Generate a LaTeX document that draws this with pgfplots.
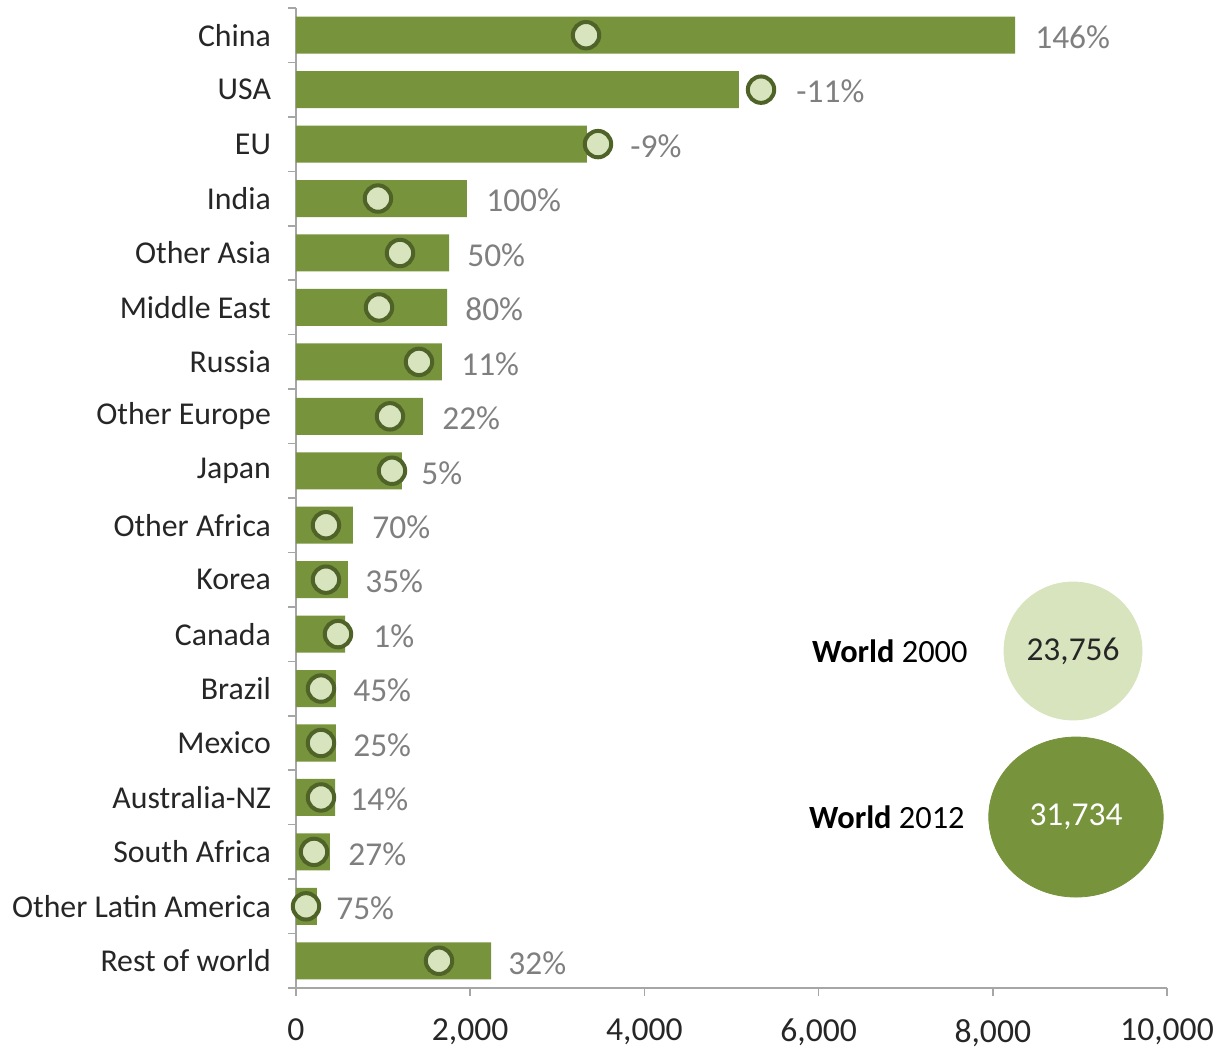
\documentclass[border=0pt]{standalone}
\usepackage{pgfplots}
\pgfplotsset{compat=1.18}
\usepackage{pgfplotstable}
\usepackage{fontspec}
\setmainfont{Carlito}
\definecolor{barg}{HTML}{77933C}
\definecolor{lightg}{HTML}{D7E4BD}
\definecolor{darkg}{HTML}{4F6228}
\definecolor{pctgray}{HTML}{7F7F7F}
\definecolor{axgray}{HTML}{A6A6A6}
\definecolor{txt}{HTML}{262626}
\pgfplotstableread{
idx v2012 v2000 labx pct
0 8255 3330 8484 146
1 5086 5339 5741 -11
2 3341 3467 3835 -9
3 1963 941 2181 100
4 1757 1194 1963 50
5 1734 953 1940 80
6 1676 1412 1894 11
7 1458 1079 1676 22
8 1217 1102 1435 5
9 654 344 873 70
10 597 344 792 35
11 563 482 884 1
12 459 287 654 45
13 459 287 654 25
14 448 287 620 14
15 390 207 597 27
16 241 115 459 75
17 2239 1642 2434 32
}\data
\newcommand{\lblfont}{\fontsize{15.9}{18}\selectfont}
\newcommand{\tickfont}{\fontsize{16.8}{19}\selectfont}
\newcommand{\pctfont}{\fontsize{16.7}{19}\selectfont}
\newcommand{\wfont}{\fontsize{16.2}{19}\selectfont}
\begin{document}
\begin{tikzpicture}
\useasboundingbox (-148pt,-32pt) rectangle (462.5pt,494pt);
\begin{axis}[
  at={(0,0)}, anchor=south west,
  scale only axis, width=435.5pt, height=490pt,
  xmin=0, xmax=10000, ymin=-0.5, ymax=17.5, y dir=reverse,
  axis x line*=bottom, axis y line*=left,
  axis line style={axgray, line width=0.8pt, -},
  tick align=outside, major tick length=4pt,
  tick style={axgray, line width=0.8pt},
  xtick={0,2000,4000,6000,8000,10000},
  scaled x ticks=false,
  xticklabel style={/pgf/number format/1000 sep={,}, /pgf/number format/assume math mode=true, font=\tickfont, text=txt, yshift=-8pt},
  ytick={-0.5,0.5,...,17.5}, yticklabels={},
  extra y ticks={0,1,...,17},
  extra y tick labels={China,USA,EU,India,Other Asia,Middle East,Russia,Other Europe,Japan,Other Africa,Korea,Canada,Brazil,Mexico,Australia-NZ,South Africa,Other Latin America,Rest of world},
  extra y tick style={major tick length=0pt, yticklabel style={font=\lblfont, text=txt, xshift=-9pt}},
  clip=false,
]
\addplot[xbar, bar width=18.5pt, bar shift=0pt, fill=barg, draw=none] table[x=v2012, y=idx] {\data};
\addplot[only marks, mark=*, mark size=6.6pt, mark options={fill=lightg, draw=darkg, line width=2pt}] table[x=v2000, y=idx] {\data};
\addplot[draw=none, mark=none, nodes near coords={\pgfplotspointmeta\%}, point meta=explicit symbolic,
  nodes near coords style={anchor=west, inner sep=0pt, text=pctgray, font=\pctfont, yshift=-1pt}] table[x=labx, y=idx, meta=pct] {\data};
\addplot[only marks, mark=*, mark size=34.5pt, mark options={fill=lightg, draw=lightg}] coordinates {(8921,11.31)};
\addplot[only marks, mark=*, mark size=40pt, mark options={fill=barg, draw=barg, xscale=1.09}] coordinates {(8955,14.36)};
\node[anchor=east, inner sep=0pt, text=black, font=\wfont] at (axis cs:7715,11.31) {\textbf{World} 2000};
\node[anchor=east, inner sep=0pt, text=black, font=\wfont] at (axis cs:7681,14.36) {\textbf{World} 2012};
\coordinate (w1) at (axis cs:8921,11.31);
\coordinate (w2) at (axis cs:8955,14.36);
\end{axis}
\node[inner sep=0pt, text=txt, font=\pctfont] at (w1) {23,756};
\node[inner sep=0pt, text=white, font=\pctfont] at (w2) {31,734};
\end{tikzpicture}
\end{document}
